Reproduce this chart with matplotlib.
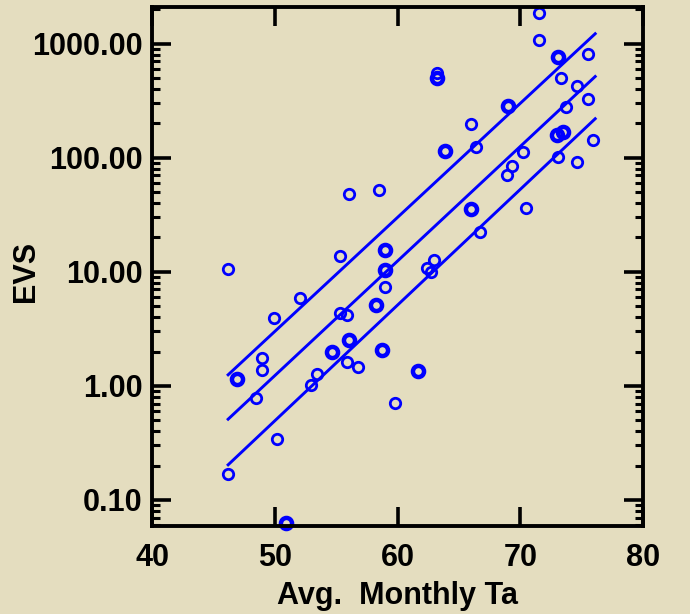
import matplotlib
matplotlib.use('Agg')
import matplotlib.pyplot as plt
from matplotlib.ticker import LogLocator, NullFormatter, FixedLocator

# scatter data (Avg. monthly Ta, EVS)
temp = [71.5, 71.5, 75.5, 63.2, 73.3, 74.65, 75.5, 73.7, 65.96, 66.4,
		75.95, 70.25, 73.05, 74.65, 69.35, 68.9, 70.5, 66.7, 56.05, 58.5,
		55.3, 46.17, 59.0, 62.4, 62.7, 63.0, 52.06, 49.94, 55.3, 55.86,
		55.9, 56.8, 48.99, 48.99, 53.4, 52.99, 48.45, 59.8, 50.2, 46.17]
evs = [1850, 1080, 820, 550, 500, 430, 330, 280, 198, 124,
	   144, 113, 101, 92, 84, 70, 36.6, 22.4, 48.3, 52,
	   13.9, 10.6, 7.4, 10.8, 10.0, 12.7, 5.95, 3.93, 4.34, 4.2,
	   1.63, 1.45, 1.77, 1.38, 1.27, 1.02, 0.79, 0.71, 0.34, 0.168]

# points that look heavier (overlapping samples)
temp_heavy = [73.05, 63.2, 68.98, 63.9, 72.97, 73.5, 65.96, 59.0, 59.0, 58.25,
			  56.07, 58.77, 54.64, 61.7, 46.9, 50.9]
evs_heavy = [758, 500, 286, 115, 159, 167, 35.5, 15.4, 10.3, 5.13,
			 2.53, 2.07, 1.98, 1.36, 1.15, 0.063]

# fit line and bands (end points)
fit_x = [46.2, 76.1]
fit_mid = [0.51, 516]
fit_hi = [1.25, 1224]
fit_lo = [0.203, 220]

xticks = [40, 50, 60, 70, 80]
yticks = [0.1, 1, 10, 100, 1000]
ylabels = ['0.10', '1.00', '10.00', '100.00', '1000.00']

bg = '#E4DDBF'
blue = '#0000FF'

plt.rcParams['font.family'] = ['Liberation Sans', 'DejaVu Sans']
plt.rcParams['font.weight'] = 'bold'

fig = plt.figure(figsize=(6.9, 6.14), dpi=100)
fig.patch.set_facecolor(bg)
ax = fig.add_axes([0.2203, 0.1433, 0.7117, 0.8453])
ax.set_facecolor(bg)

ax.plot(fit_x, fit_hi, color=blue, lw=2.1)
ax.plot(fit_x, fit_mid, color=blue, lw=2.1)
ax.plot(fit_x, fit_lo, color=blue, lw=2.1)

ax.plot(temp, evs, 'o', ms=7.5, mfc='none', mec=blue, mew=2.0, clip_on=False)
ax.plot(temp_heavy, evs_heavy, 'o', ms=8, mfc='none', mec=blue, mew=3.2, clip_on=False)

ax.set_yscale('log')
ax.set_xlim(40, 80)
ax.set_ylim(0.059, 2100)

ax.xaxis.set_major_locator(FixedLocator(xticks))
ax.set_xticklabels([str(t) for t in xticks])
ax.yaxis.set_major_locator(FixedLocator(yticks))
ax.set_yticklabels(ylabels)
ax.yaxis.set_minor_locator(LogLocator(base=10, subs=range(2, 10), numticks=20))
ax.yaxis.set_minor_formatter(NullFormatter())

ax.tick_params(axis='both', which='major', direction='in', length=14, width=2.6,
			   labelsize=22, top=True, right=True, pad=7)
ax.tick_params(axis='y', which='minor', direction='in', length=6, width=2.2, right=True)
ax.tick_params(axis='x', which='major', pad=12)
for lab in ax.get_xticklabels() + ax.get_yticklabels():
	lab.set_fontweight('bold')

for s in ax.spines.values():
	s.set_linewidth(2.8)
	s.set_color('black')

ax.set_xlabel("Avg.  Monthly Ta", fontsize=22, fontweight='bold', labelpad=6)
ax.set_ylabel("EVS", fontsize=22, fontweight='bold')
ax.yaxis.set_label_coords(-0.226, 0.49)

plt.savefig("out.png", format='png', facecolor=bg)
